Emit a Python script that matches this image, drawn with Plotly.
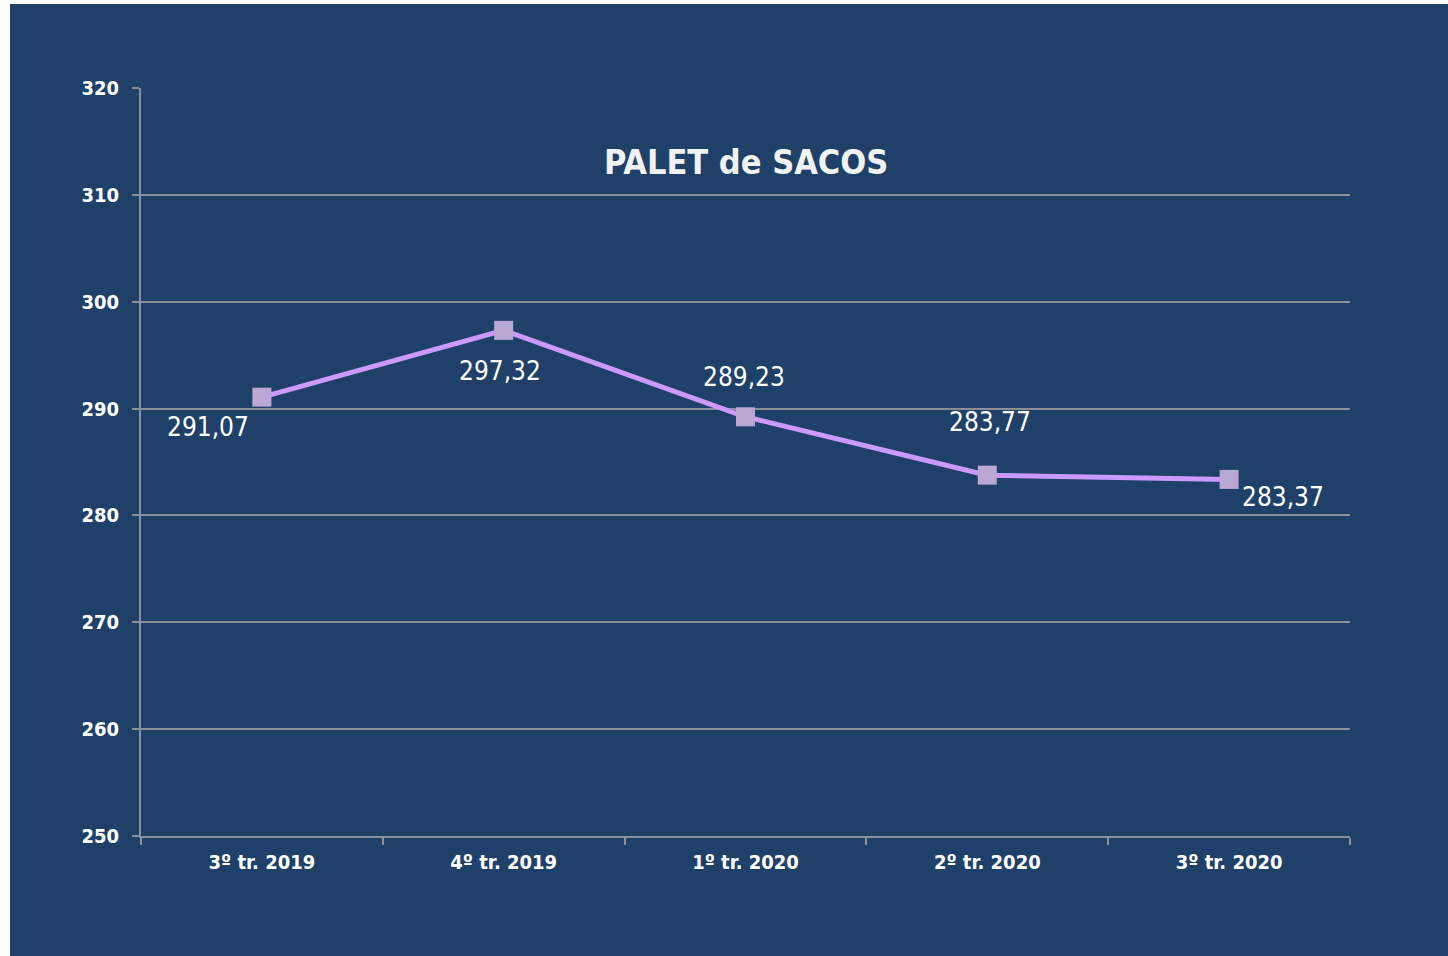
import plotly.graph_objects as go

categories = ["3º tr. 2019", "4º tr. 2019", "1º tr. 2020", "2º tr. 2020", "3º tr. 2020"]
values = [291.07, 297.32, 289.23, 283.77, 283.37]
labels = ["291,07", "297,32", "289,23", "283,77", "283,37"]
y_ticks = [250, 260, 270, 280, 290, 300, 310, 320]

BG = "#1f4068"
GRID = "#8c9096"
FONT = "DejaVu Sans Condensed, Liberation Sans Narrow, Arial Narrow, sans-serif"

W, H = 1448, 956
ML, MR, MT, MB = 141, 98, 88, 120
PW, PH = W - ML - MR, H - MT - MB

fig = go.Figure()
fig.add_trace(go.Scatter(
    x=categories, y=values, mode="lines+markers",
    line=dict(color="#cc99ff", width=5),
    marker=dict(symbol="square", size=19, color="#bba8d2", line=dict(width=0)),
    hoverinfo="skip", showlegend=False,
))

# label offsets (pixels) per point
shifts = [(-54, -30), (-4, -41), (-2, 40), (3, 53), (54, -18)]
for c, v, t, (dx, dy) in zip(categories, values, labels, shifts):
    fig.add_annotation(x=c, y=v, text=t, showarrow=False, xshift=dx, yshift=dy,
                       xanchor="center", yanchor="middle",
                       font=dict(family=FONT, size=26, color="white"))

fig.add_annotation(x=0.5, y=(836 - 162) / PH, xref="paper", yref="paper", text="<b>PALET de SACOS</b>",
                   xanchor="center", yanchor="middle",
                   showarrow=False, font=dict(family=FONT, size=34, color="#f2f2f2"))

# white border strips (left and top)
fig.add_shape(type="rect", xref="paper", yref="paper", x0=-ML / PW - 0.01, x1=(10 - ML) / PW,
              y0=-MB / PH - 0.01, y1=(H - MB) / PH + 0.01, fillcolor="white", line=dict(width=0), layer="above")
fig.add_shape(type="rect", xref="paper", yref="paper", x0=-ML / PW - 0.01, x1=(W - ML) / PW + 0.01,
              y0=(836 - 4) / PH, y1=836 / PH + 0.01, fillcolor="white", line=dict(width=0), layer="above")

fig.update_layout(
    width=W, height=H,
    margin=dict(l=ML, r=MR, t=MT, b=MB, pad=0),
    paper_bgcolor=BG, plot_bgcolor=BG,
    font=dict(family=FONT, color="white"),
    xaxis=dict(
        type="category", range=[-0.5, 4.5], tickson="boundaries",
        showgrid=False, showline=True, linecolor=GRID, linewidth=2,
        ticks="outside", ticklen=7, tickwidth=2, tickcolor=GRID,
        tickfont=dict(family=FONT, size=20, color="white"),
        tickprefix="<b>", ticksuffix="</b>", ticklabelstandoff=7, fixedrange=True,
    ),
    yaxis=dict(
        range=[250, 320], tickvals=y_ticks, ticktext=[f"<b>{v}</b>" for v in y_ticks],
        showgrid=True, gridcolor=GRID, gridwidth=2,
        showline=True, linecolor=GRID, linewidth=2,
        ticks="outside", ticklen=7, tickwidth=2, tickcolor=GRID,
        tickfont=dict(family=FONT, size=20, color="white"), ticklabelstandoff=9,
        zeroline=False, fixedrange=True,
    ),
)

fig.write_html("out.html", config={"displayModeBar": False},
               post_script="document.body.style.margin='0';document.body.style.overflow='hidden';")
